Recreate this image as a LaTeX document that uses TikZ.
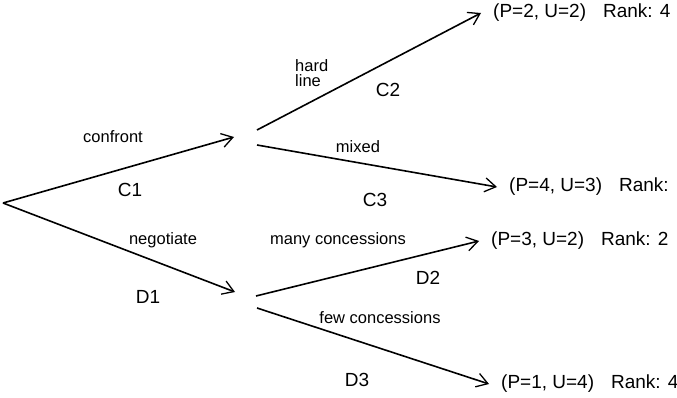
\documentclass[tikz,border=0pt]{standalone}
\usepackage{fontspec}
\setmainfont{Liberation Sans}
\usetikzlibrary{arrows.meta}
\begin{document}
\begin{tikzpicture}[x=1pt,y=-1pt,
  branch/.style={draw=black, line width=1.6pt, -{Straight Barb[length=11pt,width=14pt,line width=1.3pt]}},
  plain/.style={draw=black, line width=1.6pt},
  lbl/.style={inner sep=0pt, font=\fontsize{16.5}{15}\selectfont},
  code/.style={inner sep=0pt, font=\fontsize{19}{22}\selectfont},
  payoff/.style={anchor=west, inner ysep=0pt, inner xsep=0pt, font=\fontsize{19}{22}\selectfont}]
\useasboundingbox (0,0) rectangle (677,398);
% branch points
\coordinate (root) at (3,203);
\coordinate (cIn) at (234,137);
\coordinate (cUp) at (257,130);
\coordinate (cDn) at (257,145);
\coordinate (dIn) at (235,292);
\coordinate (dUp) at (256,296);
\coordinate (dDn) at (257,308);
% payoffs
\node[payoff] (p1) at (481,13) {\hspace{12pt}(P=2, U=2)\hspace{17pt}Rank: 4};
\node[payoff] (p2) at (497,187) {\hspace{12pt}(P=4, U=3)\hspace{17pt}Rank: 1};
\node[payoff] (p3) at (479,241) {\hspace{12pt}(P=3, U=2)\hspace{17pt}Rank: 2};
\node[payoff] (p4) at (489,384) {\hspace{12pt}(P=1, U=4)\hspace{17pt}Rank: 4};
% connectors
\draw[branch] (root) -- (cIn);
\draw[branch] (root) -- (dIn);
\draw[branch] (cUp) -- (p1.west);
\draw[branch] (cDn) -- (p2.west);
\draw[branch] (dUp) -- (p3.west);
\draw[branch] (dDn) -- (p4.west);
% labels
\node[lbl] (lconf) at (113,137) {confront};
\node[code] (lc1) at (130,190) {C1};
\node[lbl] (lneg) at (163,240) {negotiate};
\node[code] (ld1) at (148,297) {D1};
\node[lbl, anchor=west, align=left] (lhard) at (295,73) {hard\\line};
\node[code] (lc2) at (388,90) {C2};
\node[lbl] (lmix) at (358,147) {mixed};
\node[code] (lc3) at (375,200) {C3};
\node[lbl] (lmany) at (338,240) {many concessions};
\node[code] (ld2) at (428,278) {D2};
\node[lbl] (lfew) at (380,318) {few concessions};
\node[code] (ld3) at (357,380) {D3};
\end{tikzpicture}
\end{document}
